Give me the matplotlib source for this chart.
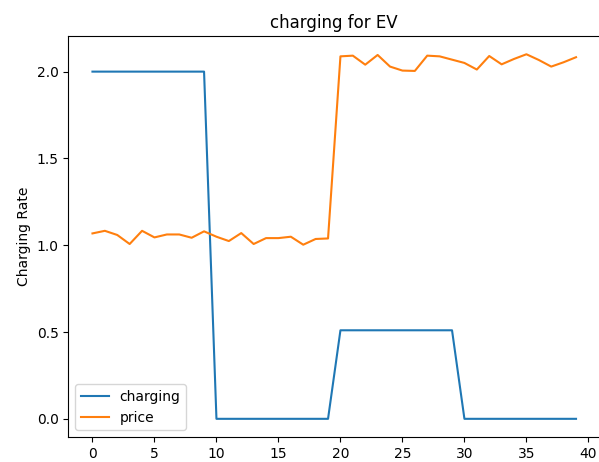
import numpy as np
import matplotlib
matplotlib.use("Agg")
import matplotlib.pyplot as plt

# hours 0..39
hours = np.arange(40)

charging = [2.0] * 10 + [0.0] * 10 + [0.51] * 10 + [0.0] * 10

price = [1.068, 1.083, 1.059, 1.007, 1.083, 1.045, 1.062, 1.062, 1.043, 1.080,
         1.049, 1.024, 1.070, 1.007, 1.041, 1.041, 1.049, 1.003, 1.036, 1.039,
         2.088, 2.092, 2.040, 2.096, 2.029, 2.006, 2.004, 2.092, 2.088, 2.069,
         2.050, 2.012, 2.090, 2.042, 2.073, 2.100, 2.067, 2.029, 2.054, 2.083]

fig = plt.figure(figsize=(5.99, 4.62), dpi=100)
ax = fig.add_axes([0.114, 0.054, 0.888, 0.868])

ax.plot(hours, charging, label="charging")
ax.plot(hours, price, label="price")
ax.set_title("charging for EV")
ax.set_ylabel("Charging Rate")
ax.set_xticks([0, 5, 10, 15, 20, 25, 30, 35, 40])
ax.legend(loc="lower left")

fig.savefig("out.png", dpi=100)
